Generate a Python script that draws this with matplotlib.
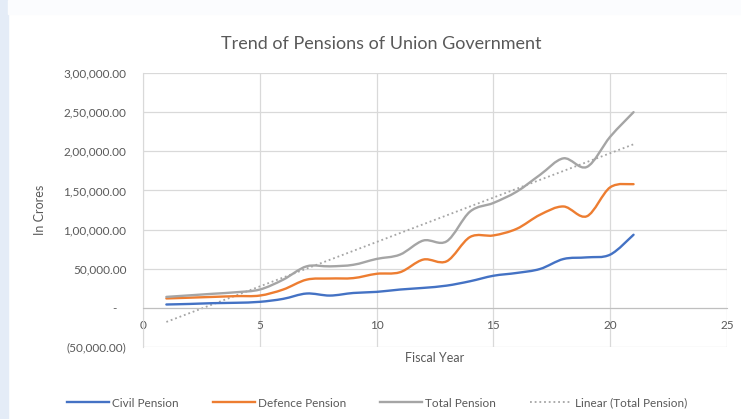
import numpy as np
import matplotlib.pyplot as plt
from matplotlib.path import Path
from matplotlib.patches import PathPatch, Rectangle
from matplotlib.lines import Line2D
from matplotlib.ticker import FuncFormatter, MultipleLocator

plt.rcParams['font.family'] = ['Lato', 'DejaVu Sans']

# Pension spend by fiscal year (in crores)
years = np.arange(1, 22)
civil = [4300, 5000, 6000, 6500, 7700, 11500, 18300, 15700, 19000, 20400, 23400,
         25500, 28400, 34000, 41000, 44600, 49700, 62400, 64500, 68000, 93400]
defence = [12000, 13000, 14000, 15000, 15700, 23400, 36000, 37500, 38000, 43500, 45500,
           61700, 59500, 90500, 92500, 101000, 119000, 129500, 117000, 154000, 158000]
total = [14000, 16000, 18000, 20000, 23400, 36000, 53000, 53000, 55000, 62500, 68000,
         86000, 85000, 123000, 134000, 148500, 170000, 191000, 180000, 218600, 250000]

series_names = ['Civil Pension', 'Defence Pension', 'Total Pension']
colors = ['#4472C4', '#ED7D31', '#A5A5A5']


def smooth_path(x, y):
    # cubic bezier through every point, like a spreadsheet "smoothed line"
    pts = np.column_stack([x, y]).astype(float)
    verts = [pts[0]]
    codes = [Path.MOVETO]
    n = len(pts)
    for i in range(n - 1):
        p0 = pts[max(i - 1, 0)]
        p1 = pts[i]
        p2 = pts[i + 1]
        p3 = pts[min(i + 2, n - 1)]
        c1 = p1 + (p2 - p0) / 6.0
        c2 = p2 - (p3 - p1) / 6.0
        verts += [c1, c2, p2]
        codes += [Path.CURVE4] * 3
    return Path(verts, codes)


def indian(v, pos=None):
    if v == 0:
        return '-   '
    s = '%.2f' % abs(v)
    whole, dec = s.split('.')
    if len(whole) > 3:
        head, tail = whole[:-3], whole[-3:]
        groups = []
        while len(head) > 2:
            groups.insert(0, head[-2:])
            head = head[:-2]
        if head:
            groups.insert(0, head)
        whole = ','.join(groups + [tail])
    out = whole + '.' + dec
    return '(' + out + ')' if v < 0 else out


fig = plt.figure(figsize=(7.41, 4.19), dpi=100)
fig.patches.append(Rectangle((0, 0), 8 / 741, 1, transform=fig.transFigure,
                             color='#e4ecf7', zorder=0))
fig.patches.append(Rectangle((8 / 741, 1 - 14 / 419), 1 - 8 / 741, 14 / 419,
                             transform=fig.transFigure, color='#fbfcfe', zorder=0))

ax = fig.add_axes([143 / 741, 72 / 419, 584 / 741, 274 / 419])

for vals, col in zip([civil, defence, total], colors):
    ax.add_patch(PathPatch(smooth_path(years, vals), fill=False, edgecolor=col,
                           lw=1.7, capstyle='round', joinstyle='round', zorder=3))

# linear trend of total pension
slope, icpt = np.polyfit(years, total, 1)
ax.plot(years, slope * years + icpt, color='#A5A5A5', lw=1.3,
        linestyle=(0, (1, 1.6)), zorder=2)

ax.set_xlim(0, 25)
ax.set_ylim(-50000, 300000)
ax.xaxis.set_major_locator(MultipleLocator(5))
ax.yaxis.set_major_locator(MultipleLocator(50000))
ax.yaxis.set_major_formatter(FuncFormatter(indian))
ax.grid(True, color='#d9d9d9', lw=0.9)
ax.set_axisbelow(True)

for side in ['top', 'right']:
    ax.spines[side].set_visible(False)
ax.spines['bottom'].set_position(('data', 0))
ax.spines['bottom'].set_color('#bfbfbf')
ax.spines['left'].set_color('#d9d9d9')
ax.tick_params(length=0, colors='#595959', labelsize=8.5)
ax.tick_params(axis='y', pad=12)
ax.tick_params(axis='x', pad=9)

fig.text(381 / 741, 1 - 44 / 419, 'Trend of Pensions of Union Government',
         ha='center', va='center', fontsize=13, color='#595959')
fig.text(40 / 741, 1 - 210 / 419, 'In Crores', rotation=90, ha='center',
         va='center', fontsize=9, color='#595959')
fig.text(435 / 741, 1 - 358 / 419, 'Fiscal Year', ha='center', va='center',
         fontsize=9, color='#595959')

handles = [Line2D([], [], color=c, lw=1.7) for c in colors]
handles.append(Line2D([], [], color='#A5A5A5', lw=1.3, linestyle=(0, (1, 1.6))))
fig.legend(handles, series_names + ['Linear (Total Pension)'], ncol=4,
           loc='center', bbox_to_anchor=(377 / 741, 1 - 403 / 419), frameon=False,
           fontsize=8.5, labelcolor='#595959', handlelength=3.6,
           handletextpad=0.2, columnspacing=2.9)

fig.savefig('out.png', dpi=100)
